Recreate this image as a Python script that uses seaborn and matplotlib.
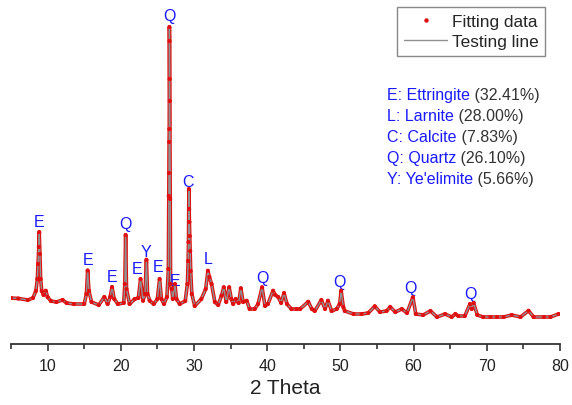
import pandas as pd
import matplotlib
matplotlib.use("Agg")
import matplotlib.pyplot as plt
import seaborn as sns
from matplotlib.lines import Line2D

# XRD pattern (2 theta in degrees, intensity in a.u.)
two_theta = [5.0, 6.0, 7.3, 8.0, 8.4, 8.6, 8.7, 8.8, 8.86, 8.95, 9.05, 9.2, 9.45, 9.76,
             10.0, 10.45, 11.2, 12.05, 12.6, 13.6, 15.0, 15.3, 15.47, 15.65, 16.0, 17.0,
             17.75, 18.2, 18.55, 18.8, 19.1, 19.6, 20.4, 20.55, 20.66, 20.78, 21.2, 21.9,
             22.4, 22.7, 23.03, 23.3, 23.5, 23.65, 23.95, 24.5, 25.0, 25.3, 25.55, 25.9,
             26.3, 26.5, 26.55, 26.58, 26.6, 26.62, 26.64, 26.66, 26.68, 26.7, 26.74, 26.8,
             26.95, 27.1, 27.4, 27.6, 28.05, 28.8, 29.1, 29.2, 29.25, 29.3, 29.33, 29.37,
             29.42, 29.48, 29.55, 29.7, 30.1, 31.0, 31.6, 31.9, 32.1, 32.4, 32.85, 33.3,
             33.75, 34.07, 34.4, 34.8, 35.1, 35.35, 35.7, 36.1, 36.4, 36.7, 37.2, 37.6,
             38.3, 38.75, 39.3, 39.7, 40.1, 40.8, 41.1, 41.5, 41.9, 42.3, 42.7, 43.3,
             44.0, 44.5, 45.6, 46.1, 46.5, 47.4, 47.9, 48.3, 48.8, 49.5, 49.9, 50.1,
             50.4, 50.6, 51.8, 52.9, 53.8, 54.7, 55.4, 56.3, 56.8, 57.5, 58.4, 59.1,
             59.9, 60.3, 61.3, 62.3, 63.2, 64.3, 65.2, 65.7, 66.1, 67.0, 67.7, 67.95,
             68.2, 68.7, 69.5, 70.5, 71.4, 72.3, 73.4, 74.6, 75.7, 76.4, 77.8, 78.7, 79.8]
intensity = [1840, 1820, 1760, 1840, 2120, 2600, 3200, 3880, 4480, 3600, 2600, 2120, 1960, 2130,
             1880, 1720, 1680, 1760, 1640, 1600, 1600, 2000, 2940, 2120, 1680, 1560,
             1880, 1600, 1880, 2280, 1800, 1600, 1640, 2400, 4360, 2200, 1600, 1800,
             1840, 2600, 1730, 2000, 3370, 2000, 1730, 1600, 1800, 2600, 1800, 1600,
             1880, 3000, 5920, 6840, 8080, 8600, 12680, 12120, 10600, 9720, 5800, 2400,
             2200, 1800, 2400, 1800, 1600, 1720, 2400, 3320, 4080, 6200, 5400, 4880,
             4320, 3720, 2920, 2000, 1520, 1800, 2200, 2930, 2680, 2400, 1680, 1560,
             1930, 2270, 1680, 2270, 1800, 1600, 1800, 1640, 2230, 1680, 1730, 1400,
             1400, 1600, 2270, 1520, 1600, 2130, 1960, 1880, 1640, 2040, 1600, 1400,
             1400, 1400, 1690, 1400, 1320, 1760, 1400, 1730, 1320, 1400, 1600, 2130,
             1480, 1320, 1200, 1200, 1240, 1510, 1280, 1320, 1480, 1280, 1400, 1240,
             1870, 1200, 1160, 1320, 1080, 1200, 1080, 1200, 1120, 1120, 1600, 1400,
             1640, 1160, 1080, 1080, 1080, 1080, 1160, 1080, 1330, 1080, 1080, 1080, 1200]

# peak labels: phase letter, 2 theta, height of the label
peak_names = ["E", "E", "E", "Q", "E", "Y", "E", "Q", "E", "C", "L", "Q", "Q", "Q", "Q"]
peak_pos = [8.9, 15.5, 18.8, 20.7, 22.2, 23.5, 25.1, 26.6, 27.4, 29.2, 31.9, 39.3, 49.9, 59.6, 67.8]
peak_y = [4900, 3370, 2700, 4820, 3040, 3700, 3100, 13150, 2560, 6500, 3440, 2640, 2500, 2270, 2000]

phases = ["E: Ettringite", "L: Larnite", "C: Calcite", "Q: Quartz", "Y: Ye'elimite"]
contents = ["(32.41%)", "(28.00%)", "(7.83%)", "(26.10%)", "(5.66%)"]

df = pd.DataFrame({"2 Theta": two_theta, "Intensity": intensity})

sns.set_theme(style="ticks")
plt.rcParams['font.family'] = ['Liberation Sans', 'DejaVu Sans']

fig = plt.figure(figsize=(5.72, 4.06), dpi=100)
ax = fig.add_axes([11 / 572, 61 / 406, 549 / 572, 345 / 406])

sns.lineplot(data=df, x="2 Theta", y="Intensity", color="#e01010", lw=2.6, ax=ax, zorder=2)
sns.lineplot(data=df, x="2 Theta", y="Intensity", color="#909090", lw=1.0, ax=ax, zorder=3)
sns.scatterplot(data=df, x="2 Theta", y="Intensity", color="#e01010", s=9,
                edgecolor="none", ax=ax, zorder=4)

for name, x, y in zip(peak_names, peak_pos, peak_y):
    ax.text(x, y, name, color="#1a1aff", fontsize=11.5, ha="center", va="center")

for i, (p, c) in enumerate(zip(phases, contents)):
    t = ax.text(0.685, 0.722 - i * 0.0605, p, transform=ax.transAxes, color="#1a1aff",
                fontsize=11.5, ha="left", va="center")
    ax.annotate(" " + c, xy=(1, 0), xycoords=t, va="bottom", ha="left",
                color="#333333", fontsize=11.5)

ax.set_xlim(5, 80)
ax.set_ylim(0, 13800)
ax.set_xticks([10, 20, 30, 40, 50, 60, 70, 80])
ax.set_xticks([5, 15, 25, 35, 45, 55, 65, 75], minor=True)
ax.set_yticks([])
ax.tick_params(axis="x", which="major", length=5, width=1.2, labelsize=11.5,
               colors="#333333", labelcolor="#222222", pad=5)
ax.tick_params(axis="x", which="minor", length=3.5, width=1.2, colors="#333333")
ax.set_xlabel("2 Theta", fontsize=15, color="#222222", labelpad=4)
ax.set_ylabel("")
sns.despine(ax=ax, left=True, top=True, right=True)
ax.spines["bottom"].set_linewidth(1.3)
ax.spines["bottom"].set_color("#333333")

handles = [Line2D([], [], marker="o", markersize=2.2, color="#e01010", linestyle="none"),
           Line2D([], [], color="#909090", lw=1.0)]
leg = ax.legend(handles, ["Fitting data", "Testing line"], loc="upper right",
                bbox_to_anchor=(0.973, 0.977), borderaxespad=0, fontsize=12.4,
                handlelength=2.5, handletextpad=0.25, labelspacing=0.3,
                borderpad=0.4, fancybox=False, framealpha=1)
leg.get_frame().set_edgecolor("#888888")
leg.get_frame().set_linewidth(1.0)

plt.savefig("out.png", dpi=100)
